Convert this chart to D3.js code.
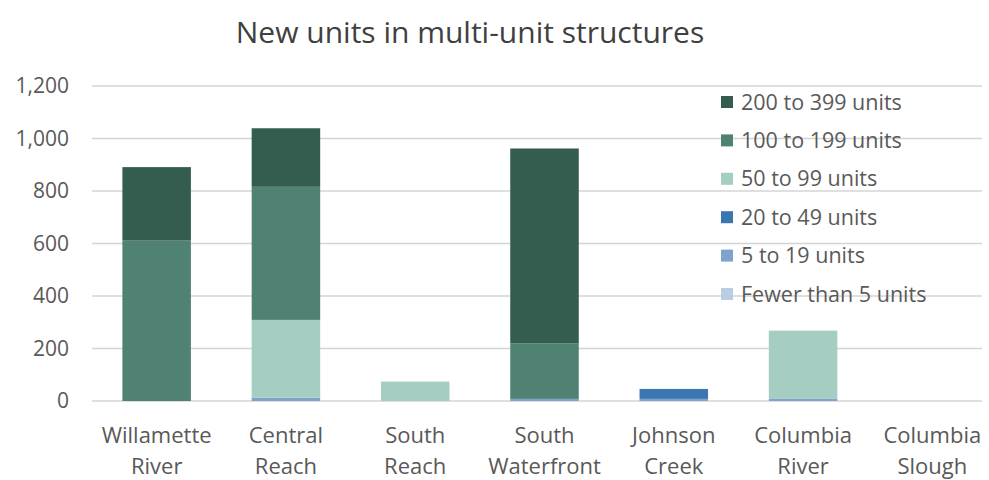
<!DOCTYPE html>
<html>
<head>
<meta charset="utf-8">
<script src="https://cdn.jsdelivr.net/npm/d3@7/dist/d3.min.js"></script>
<style>
  html, body { margin: 0; padding: 0; background: #fff; }
  svg { display: block; }
  text { font-family: "Open Sans", "Noto Sans", sans-serif; }
</style>
</head>
<body>
<svg id="chart" width="989" height="480"></svg>
<script>
// Areas (x categories), two-line labels
const categories = ["Willamette River", "Central Reach", "South Reach", "South Waterfront", "Johnson Creek", "Columbia River", "Columbia Slough"];
const categoryLines = [["Willamette", "River"], ["Central", "Reach"], ["South", "Reach"], ["South", "Waterfront"], ["Johnson", "Creek"], ["Columbia", "River"], ["Columbia", "Slough"]];

// Series, stacked bottom to top
const seriesNames = ["Fewer than 5 units", "5 to 19 units", "20 to 49 units", "50 to 99 units", "100 to 199 units", "200 to 399 units"];
const fewerThan5    = [0, 0, 0, 0, 0, 0, 0];
const units5to19    = [0, 12, 0, 8, 8, 8, 0];
const units20to49   = [0, 0, 0, 0, 38, 0, 0];
const units50to99   = [0, 297, 74, 0, 0, 260, 0];
const units100to199 = [611, 507, 0, 212, 0, 0, 0];
const units200to399 = [280, 223, 0, 742, 0, 0, 0];

const yTicks = [0, 200, 400, 600, 800, 1000, 1200];
const colors = ["#b9cde3", "#7fa3cc", "#3a77b2", "#a5cdc1", "#4f8272", "#345c4f"];

const seriesValues = [fewerThan5, units5to19, units20to49, units50to99, units100to199, units200to399];
const rows = categories.map((c, i) => {
  const r = { category: c };
  seriesNames.forEach((s, k) => { r[s] = seriesValues[k][i]; });
  return r;
});

const svg = d3.select("#chart");

const x = d3.scaleBand().domain(categories).range([92, 997]).paddingInner(0.47).paddingOuter(0.235);
const y = d3.scaleLinear().domain([0, 1200]).range([401, 86]);

// Title
svg.append("text")
  .attr("x", 470).attr("y", 43)
  .attr("text-anchor", "middle")
  .attr("font-size", 30)
  .attr("fill", "#404040")
  .text("New units in multi-unit structures");

// Gridlines
svg.append("g")
  .selectAll("line")
  .data(yTicks)
  .join("line")
  .attr("x1", 92).attr("x2", 982)
  .attr("y1", d => y(d)).attr("y2", d => y(d))
  .attr("stroke", "#d4d4d4")
  .attr("stroke-width", 1.4);

// Y axis labels
const yAxis = svg.append("g")
  .attr("transform", "translate(69,0)")
  .call(d3.axisLeft(y).tickValues(yTicks).tickFormat(d3.format(",")).tickSize(0).tickPadding(0));
yAxis.select(".domain").remove();
yAxis.selectAll("text")
  .attr("font-size", 21)
  .attr("fill", "#595959")
  .attr("font-family", "\"Open Sans\", \"Noto Sans\", sans-serif");

// Stacked bars
const stacked = d3.stack().keys(seriesNames)(rows);
svg.append("g")
  .selectAll("g")
  .data(stacked)
  .join("g")
  .attr("fill", (d, i) => colors[i])
  .selectAll("rect")
  .data(d => d)
  .join("rect")
  .attr("x", d => x(d.data.category))
  .attr("width", x.bandwidth())
  .attr("y", d => y(d[1]))
  .attr("height", d => Math.max(0, y(d[0]) - y(d[1])));

// Category labels
const xl = svg.append("g");
categories.forEach((c, i) => {
  const cx = x(c) + x.bandwidth() / 2;
  const t = xl.append("text")
    .attr("x", cx)
    .attr("y", 443)
    .attr("text-anchor", "middle")
    .attr("font-size", 22)
    .attr("fill", "#595959");
  categoryLines[i].forEach((line, j) => {
    t.append("tspan").attr("x", cx).attr("dy", j === 0 ? 0 : 31).text(line);
  });
});

// Legend (top series first)
const legendOrder = seriesNames.map((s, i) => ({ name: s, color: colors[i] })).reverse();
const lg = svg.append("g");
legendOrder.forEach((d, i) => {
  const cy = 102 + i * 38.4;
  lg.append("rect")
    .attr("x", 721).attr("y", cy - 6)
    .attr("width", 12).attr("height", 12)
    .attr("fill", d.color);
  lg.append("text")
    .attr("x", 741).attr("y", cy)
    .attr("dy", "0.35em")
    .attr("font-size", 21.5)
    .attr("fill", "#595959")
    .text(d.name);
});
</script>
</body>
</html>
